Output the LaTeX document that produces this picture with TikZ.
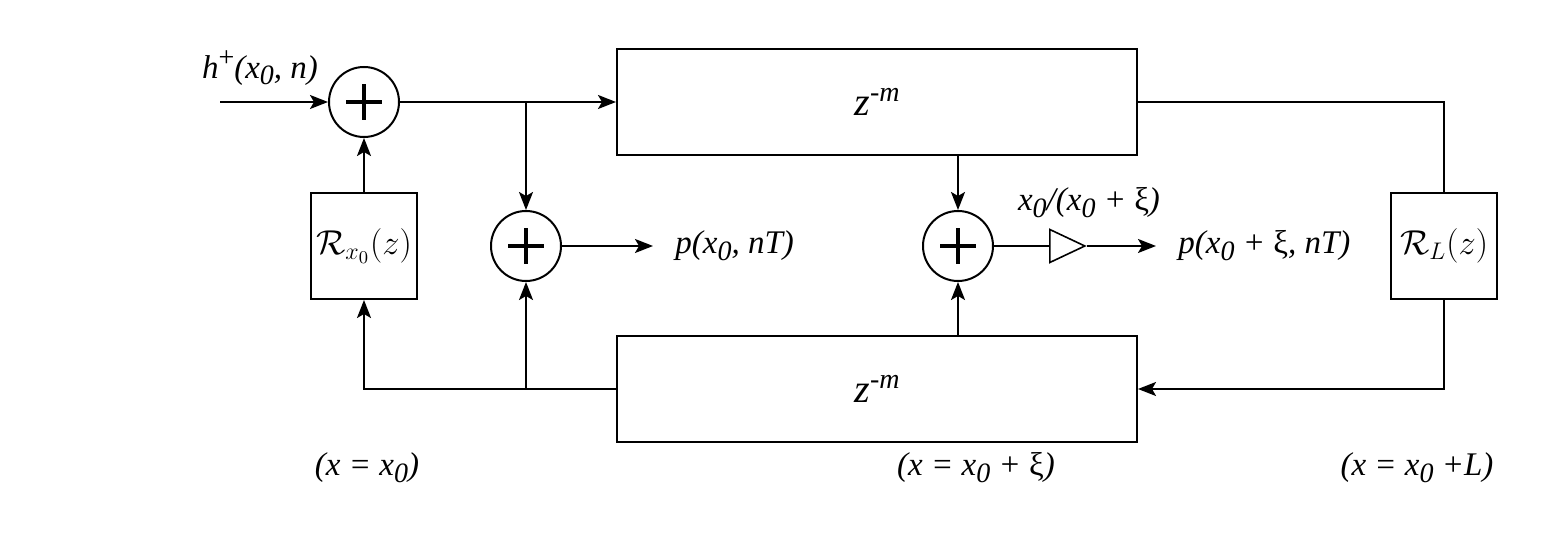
\documentclass[tikz,border=0pt]{standalone}
\usepackage{fontspec}
\setmainfont{Liberation Serif}
\usetikzlibrary{arrows.meta,shapes.geometric}

\newcommand\lsub[1]{\raisebox{-0.45ex}{\fontsize{14}{14}\selectfont #1}}
\newcommand\lsup[1]{\raisebox{0.75ex}{\fontsize{14}{14}\selectfont #1}}

\tikzset{
  delay/.style={rectangle, draw, line width=1pt, minimum width=260pt, minimum height=53pt, font=\itshape\fontsize{20}{22}\selectfont},
  filt/.style={rectangle, draw, line width=1pt, minimum width=53pt, minimum height=53pt, inner sep=0pt, font=\fontsize{17.5}{20}\selectfont},
  adder/.style={circle, draw, line width=1pt, minimum size=35pt, inner sep=0pt,
    path picture={\draw[line width=1.6pt]
      ([xshift=-9pt]path picture bounding box.center) -- ([xshift=9pt]path picture bounding box.center)
      ([yshift=-9pt]path picture bounding box.center) -- ([yshift=9pt]path picture bounding box.center);}},
  gain/.style={isosceles triangle, isosceles triangle stretches, draw, line width=0.8pt, minimum width=16.5pt, minimum height=17.5pt, inner sep=0pt, anchor=west},
  lbl/.style={font=\itshape\fontsize{16.5}{18}\selectfont, inner sep=0pt},
  sig/.style={line width=1pt, -{Stealth[length=9pt,width=7pt,inset=2pt]}},
  wire/.style={line width=1pt}
}

\begin{document}
\begin{tikzpicture}[x=0.5pt, y=-0.5pt]
\useasboundingbox (0,0) rectangle (1564,533);
\node[delay] (top) at (877,102) {\raisebox{-0.4ex}{z\lsup{-m}}};
\node[delay] (bot) at (877,389) {\raisebox{-0.4ex}{z\lsup{-m}}};
\node[adder] (s1) at (364,102) {};
\node[adder] (s2) at (526,246) {};
\node[adder] (s3) at (958,246) {};
\node[filt] (rx) at (364,246) {$\mathcal{R}_{x_0}(z)$};
\node[filt] (rl) at (1444,246) {$\mathcal{R}_L(z)$};
\node[gain] (amp) at (1049,246) {};
\coordinate (in) at (220,102);
\node[lbl] (hin) at (260,68) {h\lsup{\upshape +}(x\lsub{0}, n)};
\node[lbl, anchor=west] (p1) at (675,246) {p(x\lsub{0}, nT)};
\node[lbl, anchor=west] (p2) at (1178,246) {p(x\lsub{0} + {\upshape ξ}, nT)};
\node[lbl] (g) at (1089,203) {x\lsub{0}/(x\lsub{0} + {\upshape ξ})};
\node[lbl] (xa) at (367,468) {(x = x\lsub{0})};
\node[lbl] (xb) at (976,468) {(x = x\lsub{0} + {\upshape ξ})};
\node[lbl] (xc) at (1417,468) {(x = x\lsub{0} +L)};

\draw[sig] (in) -- (s1.west);
\draw[sig] (s1.east) -- (top.west);
\draw[sig] (s2 |- s1) -- (s2.north);
\draw[wire] (top.east) -| (rl.north);
\draw[sig] (rl.south) |- (bot.east);
\draw[sig] (bot.west) -| (rx.south);
\draw[sig] (s2 |- bot.west) -- (s2.south);
\draw[sig] (rx.north) -- (s1.south);
\draw[sig] (s3 |- top.south) -- (s3.north);
\draw[sig] (s3 |- bot.north) -- (s3.south);
\draw[sig, shorten >=11pt] (s2.east) -- (p1.west);
\draw[wire] (s3.east) -- (amp.west);
\draw[sig, shorten >=11pt] (amp.east) -- (p2.west);
\end{tikzpicture}
\end{document}
